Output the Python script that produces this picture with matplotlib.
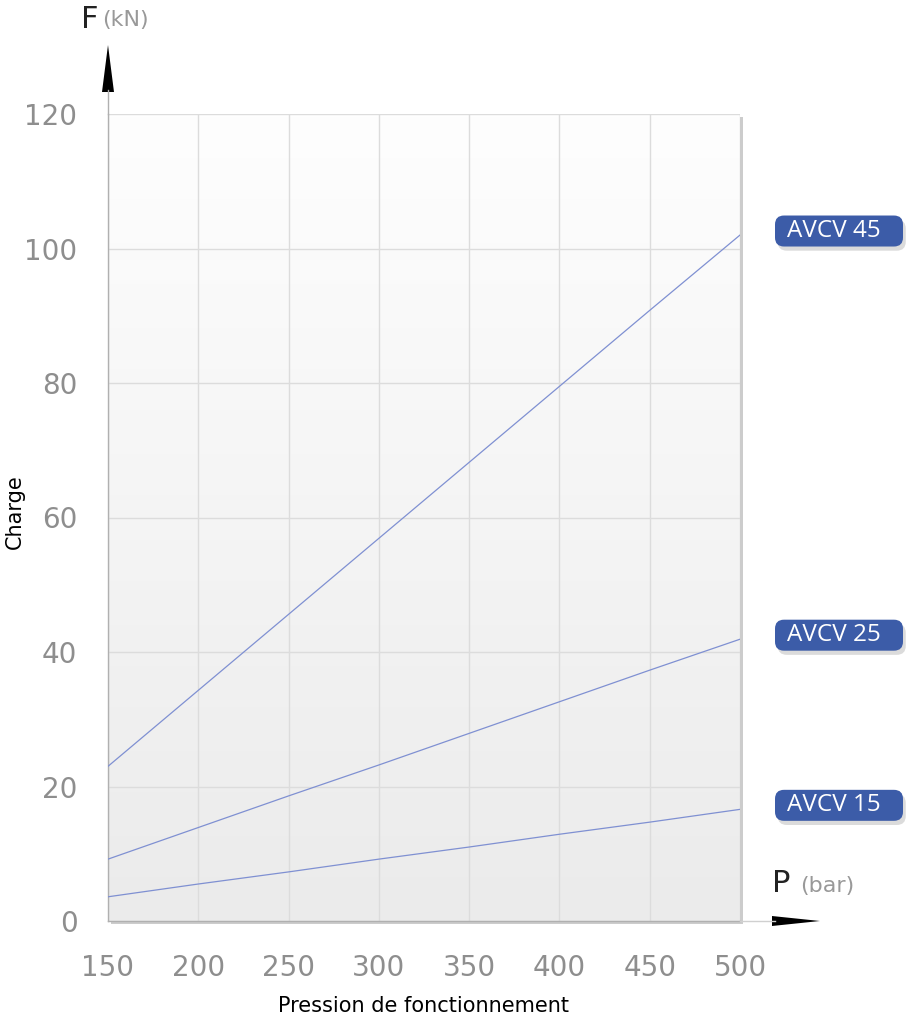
import numpy as np
import matplotlib.pyplot as plt
from matplotlib.patches import Polygon, FancyBboxPatch
from matplotlib.lines import Line2D
import matplotlib.patheffects as pe

# data
pressure = [150, 200, 250, 300, 350, 400, 450, 500]
avcv_45 = [23, 34.3, 45.6, 56.9, 68.2, 79.5, 90.8, 102]
avcv_25 = [9.2, 13.9, 18.6, 23.2, 27.9, 32.6, 37.3, 41.9]
avcv_15 = [3.6, 5.5, 7.3, 9.2, 11.0, 12.9, 14.7, 16.6]
series = {"AVCV 45": avcv_45, "AVCV 25": avcv_25, "AVCV 15": avcv_15}
x_ticks = [150, 200, 250, 300, 350, 400, 450, 500]
y_ticks = [0, 20, 40, 60, 80, 100, 120]

W, H = 923, 1024
fig = plt.figure(figsize=(W / 100, H / 100), dpi=100)
fig.patch.set_facecolor("white")

def fx(px):
    return px / W

def fy(py):
    return 1 - py / H

ax = fig.add_axes([fx(108), fy(921), fx(740) - fx(108), fy(114) - fy(921)])
ax.set_zorder(1)

# drop shadow behind the plot area
shadow = fig.add_axes(ax.get_position().translated(fx(3), -3 / H), zorder=-1)
shadow.set_facecolor("#cccccc")
shadow.set_xticks([])
shadow.set_yticks([])
for s in shadow.spines.values():
    s.set_visible(False)

# vertical gradient background (white at top, light grey at bottom)
grad = np.linspace(0, 1, 256).reshape(-1, 1)
cmap = plt.matplotlib.colors.LinearSegmentedColormap.from_list("bg", ["#fefefe", "#ebebeb"])
ax.imshow(grad, extent=[150, 500, 0, 120], origin="upper", aspect="auto", cmap=cmap, zorder=0)
ax.set_xlim(150, 500)
ax.set_ylim(0, 120)

ax.set_xticks(x_ticks)
ax.set_yticks(y_ticks)
ax.grid(True, color="#dcdcdc", lw=1, zorder=1)
ax.tick_params(length=0, labelsize=20, labelcolor="#8e8e8e")
ax.tick_params(axis="x", pad=24)
ax.tick_params(axis="y", pad=22)
for side in ["top", "right"]:
    ax.spines[side].set_visible(False)
for side in ["left", "bottom"]:
    ax.spines[side].set_color("#b0b0b0")
    ax.spines[side].set_linewidth(1)

# px -> data scale, for the label boxes
ux = 350 / 632
uy = 120 / 807
for name, vals in series.items():
    ax.plot(pressure, vals, color="#7f90d2", lw=0.9, zorder=3)
    yc = vals[-1] + 0.6
    box = FancyBboxPatch((150 + 667 * ux, yc - 15.5 * uy), 128 * ux, 31 * uy,
                         boxstyle="round,pad=0,rounding_size=%f" % (9 * ux),
                         mutation_aspect=uy / ux, fc="#3c5ca8", ec="none",
                         clip_on=False, zorder=5)
    box.set_path_effects([pe.SimplePatchShadow(offset=(2, -3), shadow_rgbFace="#999999", alpha=0.35),
                          pe.Normal()])
    ax.add_patch(box)
    ax.text(150 + 679 * ux, yc, name, ha="left", va="center", color="white",
            fontsize=17.5, family="Open Sans", clip_on=False, zorder=6)

fig.text(fx(15), fy(512), "Charge", rotation=90, fontsize=15, ha="center", va="center")
ax.set_xlabel("Pression de fonctionnement", fontsize=15, labelpad=10)

# axis arrows
fig.add_artist(Line2D([fx(108), fx(108)], [fy(114), fy(90)], color="#b0b0b0", lw=1))
fig.add_artist(Polygon([[fx(102), fy(92)], [fx(114), fy(92)], [fx(108), fy(45)]], closed=True,
                       fc="black", ec="none"))
fig.add_artist(Line2D([fx(740), fx(775)], [fy(921), fy(921)], color="#d0d0d0", lw=1))
fig.add_artist(Polygon([[fx(772), fy(916)], [fx(772), fy(926)], [fx(820), fy(921)]], closed=True,
                       fc="black", ec="none"))

fig.text(fx(81), fy(19), "F", fontsize=22, color="#222222", va="center", ha="left")
fig.text(fx(102), fy(20), "(kN)", fontsize=16, color="#999999", va="center", ha="left")
fig.text(fx(772), fy(884), "P", fontsize=22, color="#222222", va="center", ha="left")
fig.text(fx(800), fy(886), "(bar)", fontsize=16, color="#999999", va="center", ha="left")

fig.savefig("out.png", dpi=100)
